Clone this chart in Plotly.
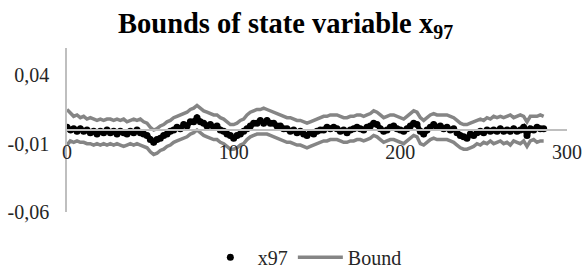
import plotly.graph_objects as go

t = list(range(0, 288, 2))

x97 = [0.002, 0.000, 0.001, -0.001, 0.001, -0.001, 0.000, -0.002, -0.001, -0.003,
       -0.001, -0.002, 0.000, -0.002, -0.001, -0.003, -0.001, -0.002, -0.003, -0.001,
       -0.002, 0.000, -0.002, -0.003, -0.004, -0.007, -0.009, -0.007, -0.006, -0.004,
       -0.003, -0.001, 0.000, 0.002, 0.001, 0.004, 0.003, 0.006, 0.006, 0.009,
       0.006, 0.005, 0.003, 0.004, 0.002, 0.003, 0.000, -0.001, -0.003, -0.004,
       -0.006, -0.004, -0.003, -0.001, 0.001, 0.003, 0.005, 0.005, 0.007, 0.005,
       0.007, 0.005, 0.005, 0.003, 0.003, 0.001, 0.001, -0.001, 0.000, -0.002,
       -0.001, -0.003, -0.004, -0.002, -0.003, -0.001, 0.000, 0.000, 0.002, 0.001,
       0.002, 0.001, -0.001, 0.000, -0.002, 0.000, 0.001, 0.002, 0.001, 0.000,
       0.002, 0.003, 0.005, 0.004, 0.001, -0.001, 0.000, 0.002, 0.003, 0.001,
       0.000, -0.001, 0.001, 0.003, 0.005, 0.004, -0.001, -0.003, 0.000, 0.002,
       0.004, 0.002, 0.003, 0.001, 0.002, 0.000, 0.001, -0.002, -0.004, -0.005,
       -0.006, -0.003, -0.004, -0.002, -0.001, -0.002, 0.000, -0.001, 0.000, -0.001,
       0.001, -0.001, 0.000, -0.001, 0.001, -0.001, 0.000, 0.002, -0.004, 0.001,
       0.000, 0.002, 0.001, 0.001]

upper = [0.015, 0.012, 0.010, 0.011, 0.009, 0.010, 0.008, 0.009, 0.008, 0.007,
         0.008, 0.007, 0.008, 0.008, 0.007, 0.008, 0.007, 0.008, 0.006, 0.007,
         0.008, 0.007, 0.008, 0.006, 0.005, 0.002, 0.000, 0.001, 0.003, 0.004,
         0.006, 0.007, 0.009, 0.010, 0.011, 0.012, 0.013, 0.015, 0.016, 0.018,
         0.016, 0.014, 0.013, 0.012, 0.011, 0.011, 0.009, 0.008, 0.006, 0.004,
         0.004, 0.005, 0.007, 0.008, 0.011, 0.013, 0.014, 0.015, 0.015, 0.016,
         0.015, 0.014, 0.013, 0.012, 0.011, 0.010, 0.009, 0.009, 0.008, 0.007,
         0.007, 0.006, 0.005, 0.006, 0.007, 0.008, 0.009, 0.010, 0.010, 0.011,
         0.011, 0.011, 0.010, 0.009, 0.009, 0.010, 0.010, 0.011, 0.011, 0.010,
         0.011, 0.012, 0.014, 0.013, 0.011, 0.009, 0.010, 0.011, 0.011, 0.010,
         0.009, 0.008, 0.010, 0.012, 0.014, 0.013, 0.009, 0.007, 0.009, 0.011,
         0.012, 0.011, 0.011, 0.011, 0.011, 0.010, 0.009, 0.007, 0.005, 0.004,
         0.004, 0.005, 0.006, 0.007, 0.008, 0.007, 0.009, 0.008, 0.010, 0.009,
         0.010, 0.009, 0.010, 0.011, 0.009, 0.010, 0.011, 0.010, 0.006, 0.010,
         0.010, 0.010, 0.011, 0.010]

lower = [-0.011, -0.008, -0.009, -0.008, -0.009, -0.009, -0.010, -0.010, -0.011, -0.010,
         -0.011, -0.010, -0.011, -0.010, -0.011, -0.010, -0.011, -0.012, -0.011, -0.010,
         -0.011, -0.010, -0.011, -0.012, -0.013, -0.016, -0.018, -0.017, -0.015, -0.014,
         -0.012, -0.011, -0.009, -0.008, -0.007, -0.006, -0.005, -0.003, -0.002, 0.000,
         -0.002, -0.004, -0.005, -0.006, -0.007, -0.007, -0.009, -0.010, -0.012, -0.014,
         -0.014, -0.013, -0.011, -0.010, -0.007, -0.005, -0.004, -0.003, -0.003, -0.003,
         -0.003, -0.004, -0.005, -0.006, -0.007, -0.008, -0.009, -0.009, -0.010, -0.011,
         -0.011, -0.012, -0.013, -0.012, -0.011, -0.010, -0.009, -0.008, -0.008, -0.007,
         -0.007, -0.007, -0.008, -0.009, -0.009, -0.008, -0.008, -0.007, -0.007, -0.008,
         -0.007, -0.006, -0.004, -0.005, -0.007, -0.009, -0.008, -0.007, -0.007, -0.008,
         -0.009, -0.010, -0.008, -0.006, -0.004, -0.005, -0.010, -0.011, -0.009, -0.007,
         -0.006, -0.007, -0.007, -0.007, -0.007, -0.008, -0.009, -0.011, -0.013, -0.014,
         -0.014, -0.013, -0.012, -0.010, -0.011, -0.009, -0.010, -0.008, -0.010, -0.009,
         -0.008, -0.010, -0.009, -0.011, -0.008, -0.009, -0.010, -0.008, -0.012, -0.008,
         -0.007, -0.009, -0.008, -0.008]

y_tickvals = [-0.06, -0.01, 0.04]
y_ticktext = ["-0,06", "-0,01", "0,04"]
x_tickvals = [0, 100, 200, 300]

GRAY = "#858585"
AXIS = "#bfbfbf"
FONT = "Liberation Serif"
TXT = "#262626"

fig = go.Figure()
fig.add_trace(go.Scatter(x=t, y=upper, mode="lines", name="Bound",
                         line=dict(color=GRAY, width=3.5), showlegend=False))
fig.add_trace(go.Scatter(x=t, y=lower, mode="lines", name="Bound",
                         line=dict(color=GRAY, width=3.5), showlegend=False))
fig.add_trace(go.Scatter(x=t, y=x97, mode="lines+markers", name="x97",
                         line=dict(color="black", width=5),
                         marker=dict(color="black", size=7, symbol="circle"),
                         showlegend=False))
# legend entries
fig.add_trace(go.Scatter(x=[None], y=[None], mode="markers", name="x97",
                         marker=dict(color="black", size=7, symbol="circle")))
fig.add_trace(go.Scatter(x=[None], y=[None], mode="lines", name="Bound",
                         line=dict(color=GRAY, width=3.5)))

fig.update_layout(
    width=584, height=268,
    margin=dict(l=67, r=17, t=48, b=56, autoexpand=False),
    paper_bgcolor="white", plot_bgcolor="white",
    font=dict(family=FONT, size=20, color=TXT),
    title=dict(text="<b>Bounds of state variable x<sub>97</sub></b>",
               font=dict(family=FONT, size=28.5, color="black"),
               x=0.489, xref="container", xanchor="center",
               y=0.915, yref="container", yanchor="middle"),
    xaxis=dict(range=[0, 300], tickvals=x_tickvals, showgrid=False, zeroline=False,
               showline=True, linecolor=AXIS, linewidth=1.5,
               anchor="free", position=0.5,
               ticks="outside", ticklen=4, tickcolor="rgba(0,0,0,0)",
               tickfont=dict(family=FONT, size=20, color=TXT)),
    yaxis=dict(range=[-0.06, 0.06], tickvals=y_tickvals, ticktext=y_ticktext,
               showgrid=False, zeroline=False, showline=True, linecolor=AXIS,
               linewidth=1.5, ticks="outside", ticklen=12, tickcolor="rgba(0,0,0,0)",
               tickfont=dict(family=FONT, size=20, color=TXT)),
    legend=dict(orientation="h", x=0.522, xref="container", xanchor="center",
                y=0.04, yref="container", yanchor="middle",
                itemwidth=45,
                font=dict(family=FONT, size=20, color=TXT),
                bgcolor="rgba(0,0,0,0)"),
    showlegend=True,
)

fig.write_html("out.html", config={"displayModeBar": False},
               post_script="document.body.style.margin='0';document.body.style.overflow='hidden';")
